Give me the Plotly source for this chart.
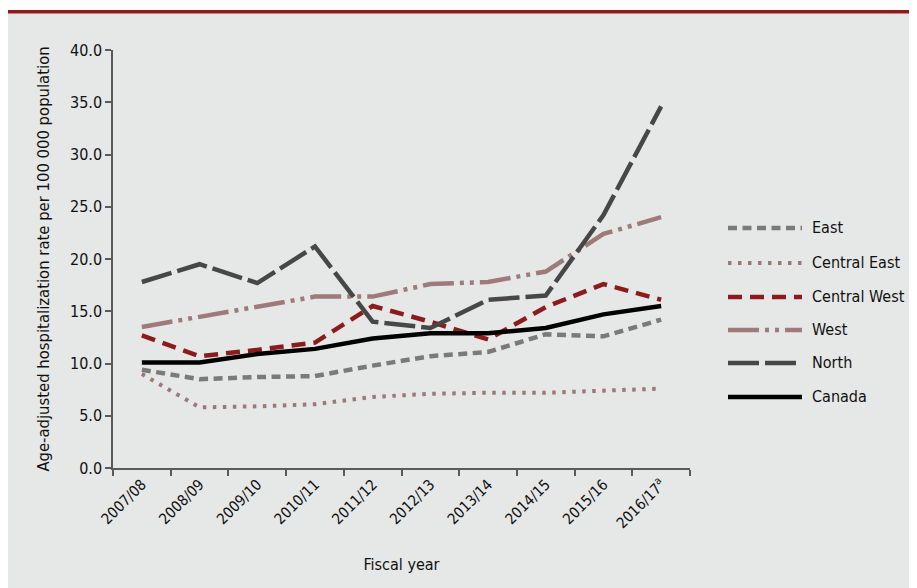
import plotly.graph_objects as go

years = ["2007/08", "2008/09", "2009/10", "2010/11", "2011/12", "2012/13",
         "2013/14", "2014/15", "2015/16", "2016/17<sup>a</sup>"]

east = [9.4, 8.5, 8.7, 8.8, 9.8, 10.7, 11.1, 12.8, 12.6, 14.2]
central_east = [9.0, 5.8, 5.9, 6.1, 6.8, 7.1, 7.2, 7.2, 7.4, 7.6]
central_west = [12.7, 10.7, 11.3, 12.0, 15.5, 14.0, 12.3, 15.4, 17.6, 16.1]
west = [13.5, 14.5, 15.5, 16.4, 16.4, 17.6, 17.8, 18.8, 22.4, 24.0]
north = [17.8, 19.5, 17.7, 21.2, 14.0, 13.4, 16.1, 16.5, 24.2, 34.6]
canada = [10.1, 10.1, 10.9, 11.4, 12.4, 12.9, 12.9, 13.4, 14.7, 15.5]

series_names = ["East", "Central East", "Central West", "West", "North", "Canada"]
series_values = [east, central_east, central_west, west, north, canada]
series_colors = ["#7a7a7a", "#9c7878", "#8c1c1c", "#9e7a7a", "#474747", "#000000"]
series_dash = ["9px,5.5px", "3.5px,6.5px", "14px,8px",
               "31px,6px,4px,6px,4px,6px", "31px,6px", "solid"]
series_width = [4.5, 4, 4.5, 4.5, 4.5, 4.5]

W, H = 909, 580
L, T, PW, PH = 105, 42, 577, 418
R, B = W - L - PW, H - T - PH
FONT = "DejaVu Sans Condensed, DejaVu Sans, sans-serif"
BG = "#e6e8e7"
TXT = "#111111"


def px_x(p):
    return (p - L) / PW


def px_y(p):
    return 1 - (p - T) / PH


fig = go.Figure()
for name, vals, col, dash, w in zip(series_names, series_values, series_colors,
                                    series_dash, series_width):
    fig.add_trace(go.Scatter(x=years, y=vals, mode="lines", name=name,
                             line=dict(color=col, dash=dash, width=w),
                             showlegend=False))

shapes = [
    dict(type="rect", xref="paper", yref="paper", x0=px_x(0), x1=px_x(W),
         y0=px_y(0), y1=px_y(2), fillcolor="white", line_width=0, layer="below"),
    dict(type="rect", xref="paper", yref="paper", x0=px_x(0), x1=px_x(W),
         y0=px_y(2), y1=px_y(5.5), fillcolor="#8c1c1c", line_width=0, layer="below"),
]
annotations = []
legend_y = [220, 255, 289, 322, 355, 389]
for name, col, dash, w, ly in zip(series_names, series_colors, series_dash,
                                  series_width, legend_y):
    shapes.append(dict(type="line", xref="paper", yref="paper",
                       x0=px_x(720), x1=px_x(794), y0=px_y(ly), y1=px_y(ly),
                       line=dict(color=col, dash=dash, width=w)))
    annotations.append(dict(xref="paper", yref="paper", x=px_x(802), y=px_y(ly - 1),
                            text=name, showarrow=False, xanchor="left",
                            yanchor="middle",
                            font=dict(family=FONT, size=16, color=TXT)))

fig.update_layout(
    width=W, height=H,
    margin=dict(l=L, r=R, t=T, b=B, pad=0),
    paper_bgcolor=BG, plot_bgcolor=BG,
    font=dict(family=FONT, color=TXT),
    shapes=shapes, annotations=annotations,
    showlegend=False,
    xaxis=dict(type="category", range=[-0.5, 9.5], showgrid=False, zeroline=False,
               showline=True, linecolor="#5a5a5a", linewidth=1.5,
               ticks="outside", tickson="boundaries", ticklen=6, tickwidth=1.5,
               tickcolor="#5a5a5a", tickangle=-45,
               tickfont=dict(family=FONT, size=15, color=TXT),
               title=dict(text="Fiscal year", standoff=28,
                          font=dict(family=FONT, size=16, color=TXT))),
    yaxis=dict(range=[0, 40], dtick=5, tickformat=".1f", showgrid=False,
               zeroline=False, showline=True, linecolor="#5a5a5a", linewidth=1.5,
               ticks="outside", ticklen=6, tickwidth=1.5, tickcolor="#5a5a5a",
               tickfont=dict(family=FONT, size=16, color=TXT),
               title=dict(text="Age-adjusted hospitalization rate per 100 000 population",
                          standoff=16,
                          font=dict(family=FONT, size=16.5, color=TXT))),
)

fig.write_html("out.html")
